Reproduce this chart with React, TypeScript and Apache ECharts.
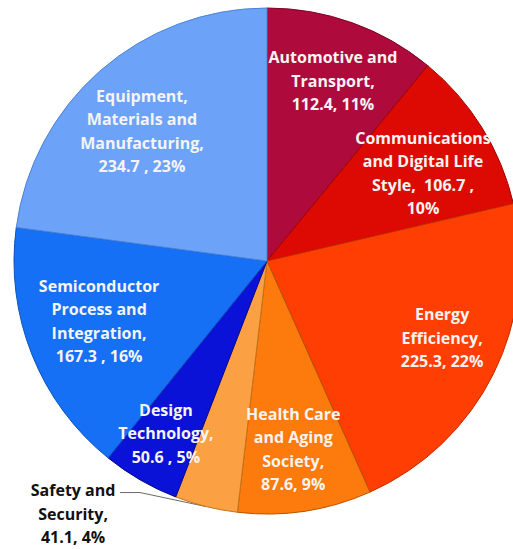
import React, { useEffect, useRef } from "react";
import * as echarts from "echarts";

// Categories (clockwise from 12 o'clock), with the line breaks used in the labels
const categories = [
  "Automotive and\nTransport",
  "Communications\nand Digital Life\nStyle",
  "Energy\nEfficiency",
  "Health Care\nand Aging\nSociety",
  "Safety and\nSecurity",
  "Design\nTechnology",
  "Semiconductor\nProcess and\nIntegration",
  "Equipment,\nMaterials and\nManufacturing",
];
const values = [112.4, 106.7, 225.3, 87.6, 41.1, 50.6, 167.3, 234.7];
const nameValueSep = [",\n", ",  ", ",\n", ",\n", ",\n", ",\n", ",\n", ",\n"];
const valuePctSep = [", ", " ,\n", ", ", ", ", ", ", " , ", " , ", " , "];
const colors = [
  "#AE0A3C",
  "#DC0A02",
  "#FE3E02",
  "#FD7A0C",
  "#FBA043",
  "#0A12D8",
  "#1570F6",
  "#6CA3F9",
];
const borderColors = [
  "#7E0229",
  "#A00600",
  "#C32E00",
  "#B85500",
  "#C27420",
  "#05088E",
  "#0D52B8",
  "#4C82D6",
];
// label placement inside each slice: [fraction of radius, angular nudge in degrees]
const labelPlacement: [number, number][] = [
  [0.758, 0.4],
  [0.708, 2.4],
  [0.756, -2.7],
  [0.75, 0.7],
  [0, 0],
  [0.789, 0.4],
  [0.705, 2.0],
  [0.713, -2.7],
];

const CX = 267;
const CY = 261;
const R = 253;
const OUTSIDE_INDEX = 4;

export default function App() {
  const ref = useRef<HTMLDivElement>(null);

  useEffect(() => {
    if (!ref.current) return;
    const chart = echarts.init(ref.current, null, { renderer: "svg" });
    const total = values.reduce((a, b) => a + b, 0);
    const mids: number[] = [];
    let acc = 0;
    values.forEach((v) => {
      mids.push(((acc + v / 2) / total) * 2 * Math.PI);
      acc += v;
    });

    chart.setOption({
      animation: false,
      backgroundColor: "#ffffff",
      series: [
        {
          type: "pie",
          center: [CX, CY],
          radius: R,
          startAngle: 90,
          clockwise: true,
          avoidLabelOverlap: false,
          itemStyle: { borderWidth: 1 },
          label: {
            show: true,
            position: "inside",
            color: "#F6F4F2",
            fontFamily: "Open Sans",
            fontWeight: "bold",
            fontSize: 16,
            lineHeight: 23.5,
            align: "center",
            formatter: (p: any) => {
              const i = p.dataIndex;
              return (
                categories[i] +
                nameValueSep[i] +
                values[i].toFixed(1) +
                valuePctSep[i] +
                Math.round(p.percent) +
                "%"
              );
            },
          },
          labelLine: { show: false },
          labelLayout: (p: any) => {
            const i = p.dataIndex;
            const th = mids[i];
            if (i === OUTSIDE_INDEX) {
              const ex = CX + R * Math.sin(th);
              const ey = CY - R * Math.cos(th);
              return {
                x: ex - 133,
                y: ey + 7,
                align: "center",
                verticalAlign: "middle",
                labelLinePoints: [
                  [ex, ey],
                  [ex - 66, ey - 14],
                  [ex - 86, ey - 14],
                ],
              };
            }
            const [frac, nudge] = labelPlacement[i];
            const a = th + (nudge * Math.PI) / 180;
            return {
              x: CX + frac * R * Math.sin(a),
              y: CY - frac * R * Math.cos(a),
              align: "center",
              verticalAlign: "middle",
            };
          },
          data: values.map((v, i) => {
            const item: any = {
              value: v,
              name: categories[i].replace(/\n/g, " "),
              itemStyle: { color: colors[i], borderColor: borderColors[i] },
            };
            if (i === OUTSIDE_INDEX) {
              item.label = { position: "outside", color: "#111111" };
              item.labelLine = {
                show: true,
                length: 10,
                length2: 20,
                lineStyle: { color: "#444444", width: 0.8 },
              };
            }
            return item;
          }),
        },
      ],
    });
    return () => chart.dispose();
  }, []);

  return (
    <div
      ref={ref}
      style={{ position: "fixed", left: 0, top: 0, width: 513, height: 549, background: "#fff" }}
    />
  );
}
